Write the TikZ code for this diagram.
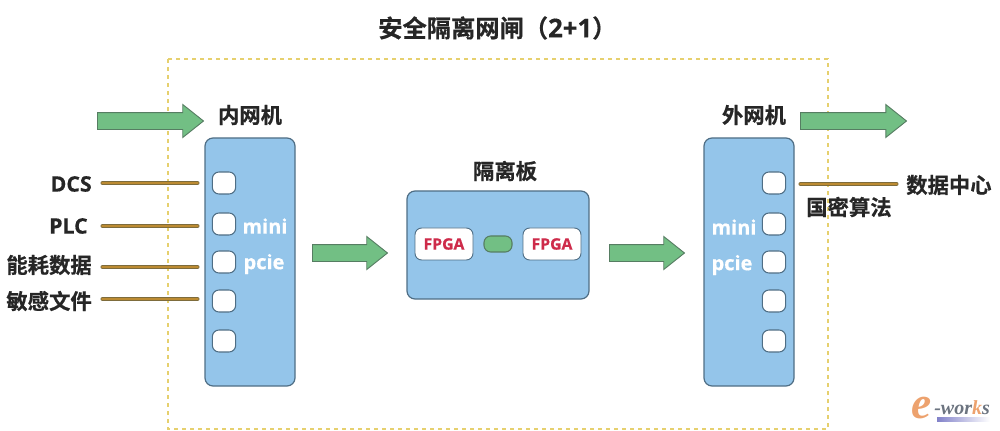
\documentclass[tikz,border=0pt]{standalone}
\usepackage{fontspec}
\newfontfamily\cjkfont{Noto Sans CJK SC}[BoldFont={Noto Sans CJK SC Bold}, BoldFeatures={FakeBold=0.6}]
\newfontfamily\latinfont{Open Sans}[BoldFeatures={FakeBold=0.5}]
\newfontfamily\logofont{Liberation Serif}
\usetikzlibrary{shapes.arrows, positioning}
\definecolor{boxblue}{HTML}{94C5EA}
\definecolor{boxedge}{HTML}{4F6E85}
\definecolor{flowgreen}{HTML}{72BF84}
\definecolor{flowedge}{HTML}{567D62}
\definecolor{buscore}{HTML}{BC8B32}
\definecolor{busedge}{HTML}{7E6C3C}
\definecolor{framegold}{HTML}{E6D06E}
\definecolor{inkdark}{HTML}{262626}
\definecolor{fpgared}{HTML}{CE2B4A}
\definecolor{logoorange}{HTML}{EDA26E}
\definecolor{logogray}{HTML}{6C7480}
\tikzset{
    hostbox/.style={draw=boxedge, fill=boxblue, line width=0.9pt, rounded corners=6pt, minimum width=67.5pt, minimum height=186pt, inner sep=0pt},
    portbox/.style={draw=boxedge, fill=white, line width=0.8pt, rounded corners=5pt, minimum width=17.5pt, minimum height=16.5pt, inner sep=0pt},
    fpgabox/.style={draw=boxedge, fill=white, line width=0.7pt, rounded corners=5pt, minimum width=43.5pt, minimum height=24pt, inner sep=0pt, text=fpgared, font=\latinfont\bfseries\fontsize{11.8}{13}\selectfont},
    flowarrow/.style={draw=flowedge, fill=flowgreen, line width=0.7pt, shape=single arrow, single arrow head extend=6pt, single arrow tip angle=77, inner sep=0pt, text height=12pt, text depth=0pt, text width=0pt, anchor=west},
    busline/.style={draw=busedge, double=buscore, double distance=1.8pt, line width=0.5pt, line cap=round, shorten >=1pt, shorten <=1pt},
    cnlabel/.style={text=inkdark, inner sep=0pt, font=\cjkfont\bfseries\fontsize{16}{18}\selectfont},
    enlabel/.style={text=inkdark, inner sep=0pt, font=\latinfont\bfseries\fontsize{16}{18}\selectfont},
    pcielabel/.style={text=white, inner sep=0pt, font=\latinfont\bfseries\fontsize{15}{18}\selectfont},
}
\begin{document}
\begin{tikzpicture}[x=0.75pt, y=-0.75pt]
    \useasboundingbox (0,0) rectangle (1000,431);

    % Title and dotted frame
    \node[text=inkdark, inner sep=0pt, anchor=west, font=\cjkfont\bfseries\fontsize{18.2}{20}\selectfont] (title) at (378,28) {安全隔离网闸（{\latinfont\bfseries\fontsize{19.3}{20}\selectfont 2+1}）};
    \draw[framegold, line width=1.3pt, dash pattern=on 3pt off 3pt] (168,59) rectangle (828,429);

    % Two host machines
    \node[hostbox] (innerhost) at (250,262) {};
    \node[hostbox] (outerhost) at (749,262) {};
    \node[cnlabel] (innername) at (250,115) {内网机};
    \node[cnlabel] (outername) at (754,115) {外网机};

    % Ports of both hosts
    \foreach \yy/\nm in {183/a, 224/b, 262/c, 301/d, 341/e} {
        \node[portbox] (inport\nm) at (224,\yy) {};
        \node[portbox] (outport\nm) at (774,\yy) {};
    }
    \node[pcielabel] (inmini) at (265,226) {mini};
    \node[pcielabel] (inpcie) at (264,264) {pcie};
    \node[pcielabel] (outmini) at (734,227) {mini};
    \node[pcielabel] (outpcie) at (732,265) {pcie};

    % Isolation board
    \node[hostbox, minimum width=136.5pt, minimum height=81pt] (board) at (498,245) {};
    \node[cnlabel] (boardname) at (505,171) {隔离板};
    \node[fpgabox] (fpgaleft) at (444,244) {FPGA};
    \node[fpgabox] (fpgaright) at (552,244) {FPGA};
    \node[draw=flowedge, fill=flowgreen, line width=0.8pt, rounded corners=5pt, minimum width=21pt, minimum height=12pt, inner sep=0pt] (bridge) at (498,244) {};

    % Block arrows
    \node[flowarrow, minimum height=79.5pt] (flowin) at (97,121) {};
    \node[flowarrow, minimum height=79.5pt] (flowout) at (800,121) {};
    \node[flowarrow, minimum height=56.25pt] (flowboard) at (312,253) {};
    \node[flowarrow, minimum height=56.25pt] (flowhost) at (609,253) {};

    % Labels on the left and the bus lines
    \node[enlabel, anchor=east] (dcs) at (92,184) {DCS};
    \node[enlabel, anchor=east] (plc) at (88,226) {PLC};
    \node[cnlabel, anchor=east] (energy) at (92,265) {能耗数据};
    \node[cnlabel, anchor=east] (secret) at (92,301) {敏感文件};
    \coordinate (dcsend) at (199,183);
    \coordinate (plcend) at (199,226);
    \coordinate (energyend) at (199,267);
    \coordinate (secretend) at (199,299);
    \coordinate (dcsstart) at (101,183);
    \coordinate (plcstart) at (101,226);
    \coordinate (energystart) at (101,267);
    \coordinate (secretstart) at (101,299);
    \draw[busline] (dcsstart) -- (dcsend);
    \draw[busline] (plcstart) -- (plcend);
    \draw[busline] (energystart) -- (energyend);
    \draw[busline] (secretstart) -- (secretend);

    % Right side output
    \node[cnlabel, anchor=west] (center) at (906,185) {数据中心};
    \node[cnlabel, anchor=west] (crypto) at (806,207) {国密算法};
    \coordinate (outstart) at (799,184);
    \coordinate (outend) at (898,184);
    \draw[busline] (outstart) -- (outend);

    % Logo in the corner
    \shade[left color=blue!40!gray!70, right color=white] (937,417) rectangle (990,421);
    \node[text=logoorange, inner sep=0pt, font=\logofont\bfseries\itshape\fontsize{34}{34}\selectfont] (logoe) at (922,408) {e};
    \node[text=logogray, inner sep=0pt, anchor=west, font=\logofont\bfseries\itshape\fontsize{15}{16}\selectfont] (logotext) at (934,408) {-wor\textcolor{logoorange}{k}s};
\end{tikzpicture}
\end{document}
